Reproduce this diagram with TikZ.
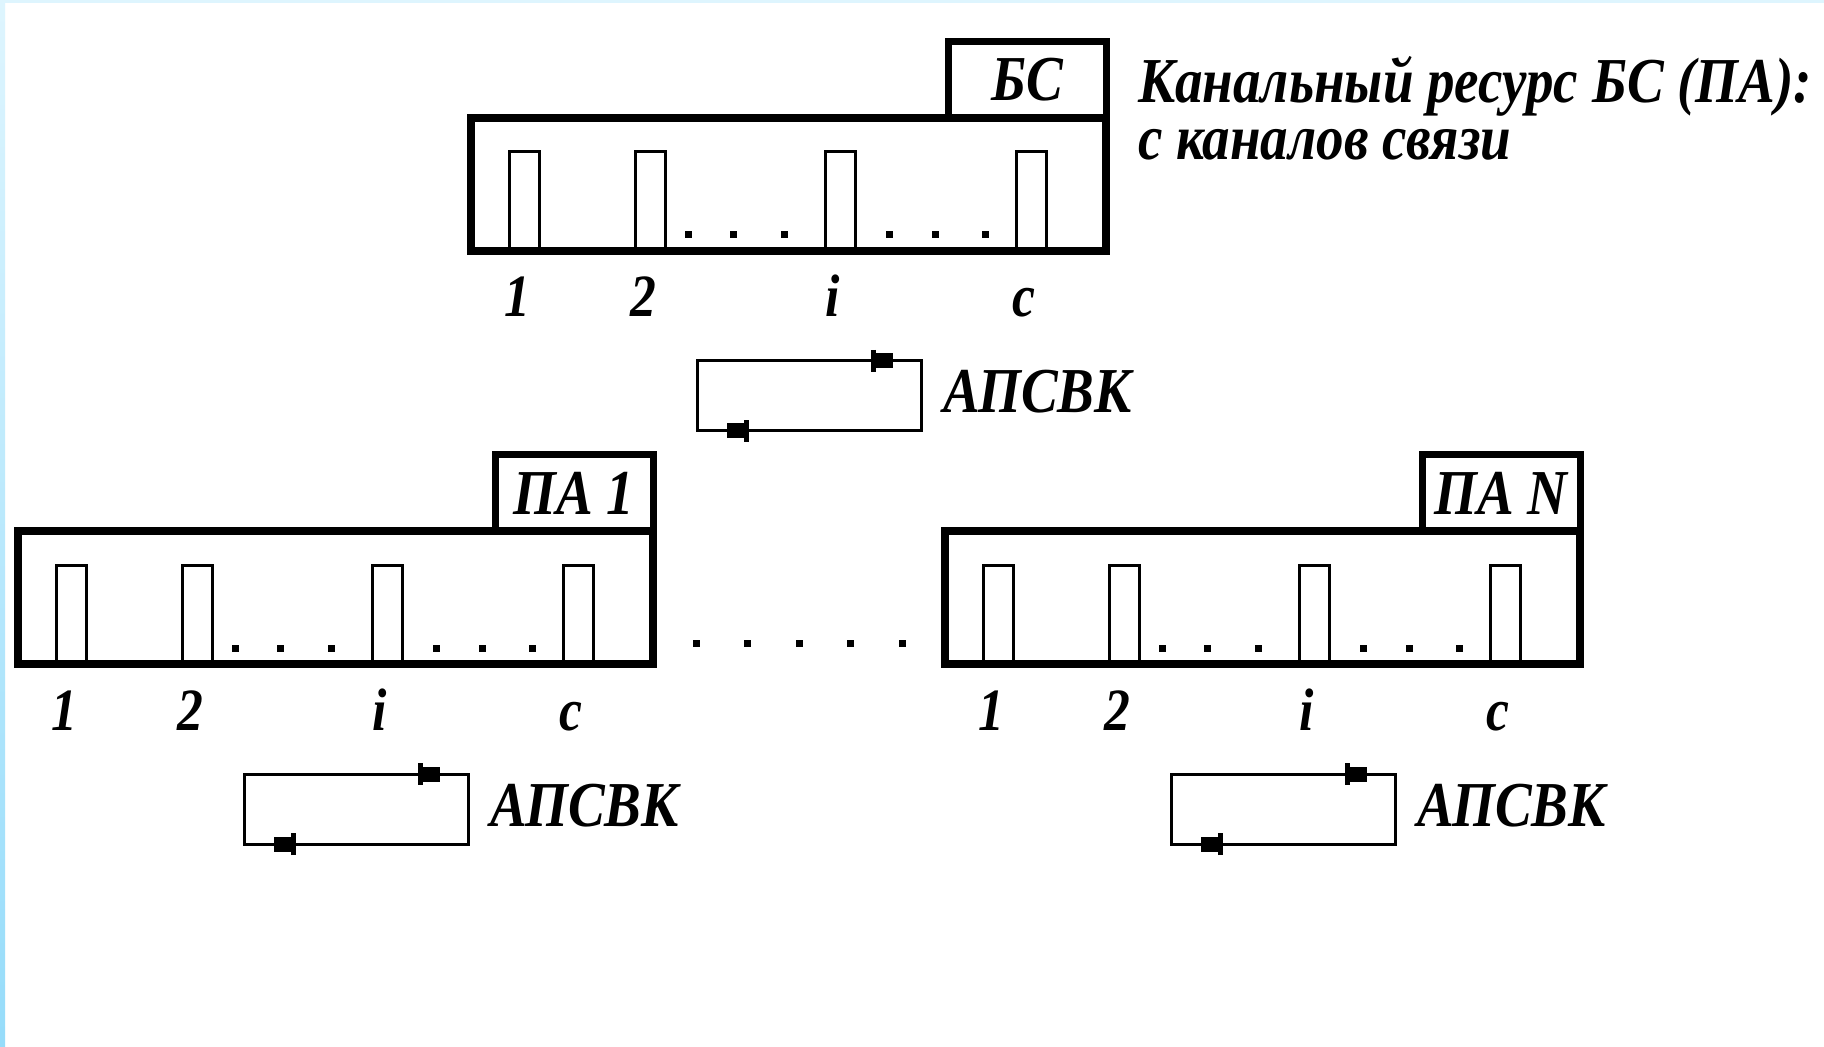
\documentclass[tikz,border=0pt]{standalone}
\usepackage{fontspec}
\setmainfont{Liberation Serif}[FakeStretch=0.86]
\usetikzlibrary{arrows.meta, positioning, calc}
\definecolor{skyedge}{RGB}{222,245,254}
\definecolor{skydeep}{RGB}{150,220,250}

\begin{document}
\begin{tikzpicture}[x=0.5pt,y=-0.5pt,
  every node/.style={outer sep=0pt},
  frame/.style={draw,line width=4pt,minimum width=317.5pt,minimum height=66.5pt,
                inner sep=0pt,anchor=north west},
  tag/.style={draw,line width=3.5pt,minimum width=79pt,minimum height=38pt,inner sep=0pt,
              font=\bfseries\itshape\fontsize{32}{34}\selectfont},
  slot/.style={draw,line width=1.5pt,minimum width=15pt,minimum height=49.5pt,
               inner sep=0pt,anchor=south west},
  num/.style={anchor=base,inner sep=0pt,font=\bfseries\itshape\fontsize{30}{32}\selectfont},
  dot/.style={fill,minimum size=3.5pt,inner sep=0pt},
  loopbox/.style={draw,line width=1.5pt,minimum width=112pt,minimum height=35pt,
                  inner sep=0pt,anchor=north west},
  lbl/.style={anchor=base west,inner sep=0pt,font=\bfseries\itshape\fontsize{32}{34}\selectfont},
  arr/.style={-{Bar[width=11pt,line width=2.5pt,sep=0pt] Rectangle[length=8.5pt,width=7.5pt,sep=0pt]},
              line width=1.5pt}
]
\useasboundingbox (0,0) rectangle (1824,1047);
\fill[white] (0,0) rectangle (1824,1047);
\shade[top color=skyedge,bottom color=skydeep] (0,0) rectangle (5,1047);
\fill[skyedge] (0,0) rectangle (1824,3);

% channel resource of the base station and of the subscriber units
\foreach \nm/\dx/\dy/\txt in {bs/0/0/БС, pa1/-453/413/ПА 1, paN/474/413/ПА N}{
  \begin{scope}[shift={(\dx,\dy)}]
    \node[frame] (\nm-res) at (471,118) {};
    \node[tag,anchor=south east] (\nm-tag) at (\nm-res.north east) {\txt};
    \foreach \sx/\sn in {509/1,635/2,825/i,1016/c}{
      \node[slot] (\nm-ch\sn) at (\sx,251) {};
      \node[num] (\nm-n\sn) at (\sx+8,317) {\sn};
    }
    \foreach \px in {688,733,784,889,935,985}
      \node[dot] (\nm-d\px) at (\px,235) {};
    % control loop
    \node[loopbox] (\nm-loop) at (697,361) {};
    \draw[arr] (\nm-loop.north west) -- ($(\nm-loop.north west)!0.875!(\nm-loop.north east)$);
    \draw[arr] (\nm-loop.south east) -- ($(\nm-loop.south east)!0.866!(\nm-loop.south west)$);
    \node[lbl] (\nm-apsvk) at (943,413) {АПСВК};
  \end{scope}
}

\foreach \k in {0,...,4}
  \node[dot] (gap\k) at (696+51.5*\k,643) {};

\node[lbl,align=left,font=\bfseries\itshape\fontsize{32}{28.5}\selectfont]
  (res-head) at (1138,160) {Канальный ресурс БС (ПА):\\с каналов связи};
\end{tikzpicture}
\end{document}
